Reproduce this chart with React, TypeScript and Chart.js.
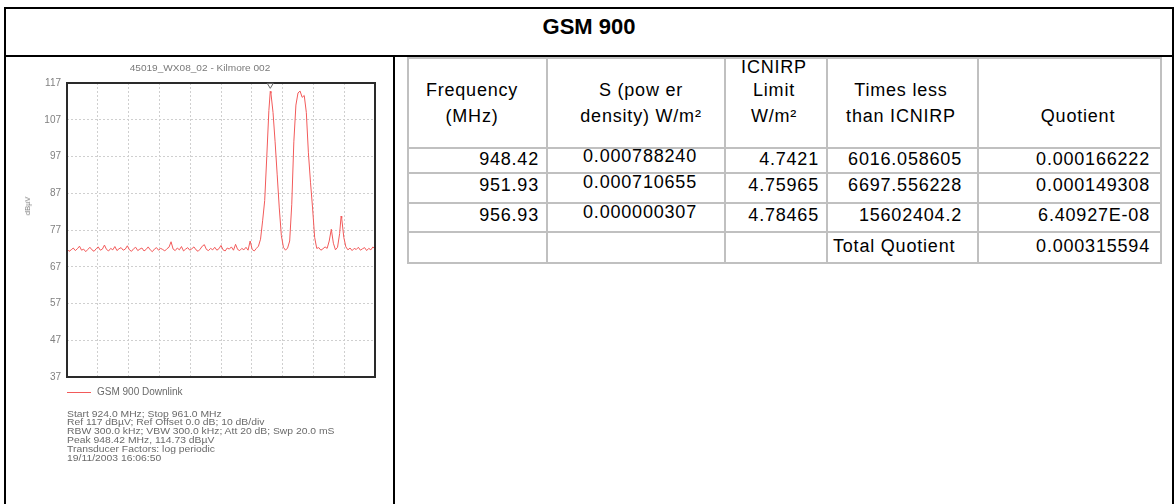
import React, { useEffect, useRef } from "react";
import { Chart, registerables } from "chart.js";

Chart.register(...registerables);

// ---------- Spectrum data ----------
const FREQ_MHZ = [
  924.0, 924.25, 924.5, 924.75, 925.0, 925.25, 925.5, 925.75, 926.0, 926.25, 926.5, 926.75,
  927.0, 927.25, 927.5, 927.75, 928.0, 928.25, 928.5, 928.75, 929.0, 929.25, 929.5, 929.75,
  930.0, 930.25, 930.5, 930.75, 931.0, 931.25, 931.5, 931.75, 932.0, 932.25, 932.5, 932.75,
  933.0, 933.25, 933.5, 933.75, 934.0, 934.25, 934.5, 934.75, 935.0, 935.25, 935.5, 935.75,
  936.0, 936.25, 936.5, 936.75, 937.0, 937.25, 937.5, 937.75, 938.0, 938.25, 938.5, 938.75,
  939.0, 939.25, 939.5, 939.75, 940.0, 940.25, 940.5, 940.75, 941.0, 941.25, 941.5, 941.75,
  942.0, 942.25, 942.5, 942.75, 943.0, 943.25, 943.5, 943.75, 944.0, 944.25, 944.5, 944.75,
  945.0, 945.25, 945.5, 945.75, 946.0, 946.25, 946.5, 946.75,
  947.0, 947.25, 947.5, 947.75, 948.0, 948.25, 948.42, 948.5, 948.75, 949.0, 949.25, 949.5, 949.75,
  950.0, 950.25, 950.5, 950.75, 951.0, 951.25, 951.5, 951.75, 952.0, 952.25, 952.5, 952.75,
  953.0, 953.25, 953.5, 953.75, 954.0, 954.25, 954.5, 954.75, 955.0, 955.25, 955.5, 955.75,
  956.0, 956.25, 956.5, 956.75, 956.93, 957.0, 957.25, 957.5, 957.75, 958.0, 958.25, 958.5,
  958.75, 959.0, 959.25, 959.5, 959.75, 960.0, 960.25, 960.5, 960.75, 961.0,
];

const LEVEL_DBUV = [
  71.8, 71.2, 71.6, 72.1, 71.4, 71.9, 72.6, 71.5, 71.8, 71.1, 71.7, 72.3,
  71.6, 71.2, 71.9, 72.4, 71.5, 71.8, 72.9, 71.7, 71.3, 72.0, 71.6, 72.5,
  71.4, 71.9, 72.2, 71.5, 71.8, 72.7, 71.6, 71.2, 71.9, 72.3, 71.4, 71.8,
  72.1, 71.3, 71.7, 72.4, 71.6, 71.1, 71.8, 72.2, 71.5, 72.0, 71.7, 71.3,
  71.9, 72.3, 73.8, 71.8, 71.4, 72.1, 71.6, 72.5, 71.3, 71.8, 72.2, 71.5,
  71.9, 72.4, 71.6, 71.2, 71.8, 72.6, 73.0, 71.7, 71.4, 72.0, 71.6, 72.3,
  71.5, 71.9, 72.8, 71.6, 71.3, 72.1, 71.8, 72.4, 71.5, 73.1, 71.7, 71.4,
  72.0, 71.6, 72.3, 71.5, 74.0, 71.7, 71.3, 72.0,
  72.6, 74.5, 79.5, 85.0, 97.0, 109.5, 114.73, 114.2, 109.0, 101.0, 92.0, 83.0, 75.5,
  72.3, 71.5, 72.1, 74.0, 84.0, 101.0, 111.0, 114.3, 114.8, 113.1, 113.6, 109.0,
  98.0, 90.0, 83.0, 75.0, 72.0, 72.2, 71.5, 71.9, 72.4, 72.0, 74.0, 77.2,
  73.4, 71.6, 72.3, 76.0, 80.8, 80.2, 75.0, 72.4, 71.6, 72.1, 71.4, 72.0,
  71.7, 72.3, 71.5, 71.9, 72.2, 71.4, 72.0, 71.6, 72.4, 71.8,
];

const Y_TICKS = [37, 47, 57, 67, 77, 87, 97, 107, 117];
const X_GRID = [924, 927.7, 931.4, 935.1, 938.8, 942.5, 946.2, 949.9, 953.6, 957.3, 961];
const X_START = 924;
const X_STOP = 961;
const PEAK_FREQ = 948.42;
const PEAK_LEVEL = 114.73;
const SERIES_LABEL = "GSM 900 Downlink";
const PLOT_TITLE = "45019_WX08_02 - Kilmore 002";
const Y_TITLE = "dBµV";
const INFO_LINES = [
  "Start 924.0 MHz; Stop 961.0 MHz",
  "Ref 117 dBµV; Ref Offset 0.0 dB; 10 dB/div",
  "RBW 300.0 kHz; VBW 300.0 kHz; Att 20 dB; Swp 20.0 mS",
  "Peak 948.42 MHz, 114.73 dBµV",
  "Transducer Factors: log periodic",
  "19/11/2003 16:06:50",
];

// ---------- Table data ----------
const PAGE_TITLE = "GSM 900";
const FREQS = ["948.42", "951.93", "956.93"];
const S_VALUES = ["0.000788240", "0.000710655", "0.000000307"];
const LIMITS = ["4.7421", "4.75965", "4.78465"];
const TIMES_LESS = ["6016.058605", "6697.556228", "15602404.2"];
const QUOTIENTS = ["0.000166222", "0.000149308", "6.40927E-08"];
const TOTAL_LABEL = "Total Quotient";
const TOTAL_QUOTIENT = "0.000315594";

const LINE_RED = "#f25a5a";

function SpectrumChart() {
  const ref = useRef<HTMLCanvasElement | null>(null);
  useEffect(() => {
    if (!ref.current) return;
    const framePlugin = {
      id: "frameAndMarker",
      afterDatasetsDraw(chart: any) {
        const { ctx, chartArea: a, scales } = chart;
        ctx.save();
        ctx.strokeStyle = "#2a2a2a";
        ctx.lineWidth = 2;
        ctx.strokeRect(a.left, a.top, a.right - a.left, a.bottom - a.top);
        const px = scales.x.getPixelForValue(PEAK_FREQ);
        const py = scales.y.getPixelForValue(PEAK_LEVEL);
        ctx.lineWidth = 1;
        ctx.strokeStyle = "#666";
        ctx.beginPath();
        ctx.moveTo(px - 3, py - 8);
        ctx.lineTo(px + 3, py - 8);
        ctx.lineTo(px, py - 3);
        ctx.closePath();
        ctx.stroke();
        ctx.restore();
      },
    };
    const chart = new Chart(ref.current, {
      type: "line",
      data: {
        datasets: [
          {
            label: SERIES_LABEL,
            data: FREQ_MHZ.map((f, i) => ({ x: f, y: LEVEL_DBUV[i] })),
            borderColor: LINE_RED,
            borderWidth: 1,
            pointRadius: 0,
            tension: 0,
            fill: false,
          },
        ],
      },
      options: {
        animation: false,
        responsive: false,
        maintainAspectRatio: false,
        layout: { padding: { left: 0, top: 26, right: 19, bottom: 127 } },
        plugins: {
          legend: { display: false },
          title: { display: false },
          tooltip: { enabled: false },
        },
        scales: {
          x: {
            type: "linear",
            min: X_START,
            max: X_STOP,
            afterBuildTicks: (s: any) => {
              s.ticks = X_GRID.map((v) => ({ value: v }));
            },
            ticks: { display: false },
            grid: { color: "#cfcfcf", lineWidth: 1, drawTicks: false },
            border: { display: false, dash: [2, 2] },
            afterFit: (s: any) => {
              s.height = 0;
            },
          },
          y: {
            type: "linear",
            min: 37,
            max: 117,
            afterBuildTicks: (s: any) => {
              s.ticks = Y_TICKS.map((v) => ({ value: v }));
            },
            ticks: {
              color: "#808080",
              font: { family: "Liberation Sans", size: 10 },
              padding: 6,
            },
            grid: { color: "#cfcfcf", lineWidth: 1, drawTicks: false },
            border: { display: false, dash: [2, 2] },
            afterFit: (s: any) => {
              s.width = 61;
            },
          },
        },
      },
      plugins: [framePlugin],
    } as any);
    return () => chart.destroy();
  }, []);
  return (
    <canvas
      ref={ref}
      width={388}
      height={447}
      style={{ position: "absolute", left: 6, top: 57, width: 388, height: 447 }}
    />
  );
}

type Align = "left" | "right" | "center";
function Txt(props: {
  x: number;
  y: number;
  text: string;
  align?: Align;
  size?: number;
  color?: string;
  bold?: boolean;
  lh?: number;
  ls?: number;
  sx?: number;
}) {
  const { x, y, text, align = "left", size = 18, color = "#000", bold, lh = 20, ls = 0, sx = 1 } = props;
  const tx = align === "right" ? "translateX(-100%)" : align === "center" ? "translateX(-50%)" : "";
  const origin = align === "right" ? "right center" : align === "center" ? "center center" : "left center";
  return (
    <div
      style={{
        position: "absolute",
        left: x,
        top: y - lh / 2,
        lineHeight: lh + "px",
        fontSize: size,
        fontWeight: bold ? "bold" : "normal",
        color,
        whiteSpace: "nowrap",
        transform: (tx + (sx !== 1 ? ` scaleX(${sx})` : "")) || "none",
        transformOrigin: origin,
        letterSpacing: ls,
      }}
    >
      {text}
    </div>
  );
}

function Rect(props: { x: number; y: number; w: number; h: number; c: string }) {
  return (
    <div
      style={{
        position: "absolute",
        left: props.x,
        top: props.y,
        width: props.w,
        height: props.h,
        background: props.c,
      }}
    />
  );
}

export default function App() {
  const colX = [407, 546, 724, 826, 977, 1160];
  const rowY = [57, 147, 172, 202, 231, 262];
  const rowText = [159, 185, 215, 246];
  const gray = "#c0c0c0";
  const TS = 18;
  const LS = 0.8;
  return (
    <div
      style={{
        position: "absolute",
        left: 0,
        top: 0,
        width: 1176,
        height: 504,
        background: "#fff",
        overflow: "hidden",
        fontFamily: "'Liberation Sans', Arial, sans-serif",
      }}
    >
      {/* outer black frame */}
      <Rect x={4} y={7} w={1170} h={2} c="#000" />
      <Rect x={4} y={55} w={1170} h={2} c="#000" />
      <Rect x={4} y={7} w={2} h={497} c="#000" />
      <Rect x={1172} y={7} w={2} h={497} c="#000" />
      <Rect x={393} y={55} w={2} h={449} c="#000" />
      <Txt x={589} y={27} text={PAGE_TITLE} align="center" size={22} bold lh={26} />

      {/* spectrum plot */}
      <SpectrumChart />
      <Txt x={200} y={68} text={PLOT_TITLE} align="center" size={9} color="#7a7a7a" lh={10} sx={1.12} />
      <div
        style={{
          position: "absolute",
          left: 28,
          top: 206,
          transform: "translate(-50%, -50%) rotate(-90deg)",
          fontSize: 7.5,
          color: "#7a7a7a",
          whiteSpace: "nowrap",
          lineHeight: "8px",
        }}
      >
        {Y_TITLE}
      </div>
      <Rect x={67} y={392} w={24} h={1} c={LINE_RED} />
      <Txt x={97} y={392} text={SERIES_LABEL} size={10} color="#6a6a6a" lh={12} />
      {INFO_LINES.map((t, i) => (
        <Txt key={i} x={67} y={414 + i * 8.8} text={t} size={9} color="#6a6a6a" lh={9} sx={1.15} />
      ))}

      {/* table grid */}
      {colX.map((x, i) => (
        <Rect key={"v" + i} x={x} y={rowY[0]} w={2} h={rowY[5] - rowY[0] + 2} c={gray} />
      ))}
      {rowY.map((y, i) => (
        <Rect key={"h" + i} x={colX[0]} y={y} w={colX[5] - colX[0] + 2} h={2} c={gray} />
      ))}

      {/* header */}
      <Txt x={472} y={90} text="Frequency" align="center" size={TS} ls={LS} />
      <Txt x={472} y={116} text="(MHz)" align="center" size={TS} ls={LS} />
      <Txt x={641} y={90} text="S (pow er" align="center" size={TS} ls={LS} />
      <Txt x={641} y={116} text="density) W/m²" align="center" size={TS} ls={LS} />
      <Txt x={774} y={67} text="ICNIRP" align="center" size={TS} ls={LS} />
      <Txt x={774} y={90} text="Limit" align="center" size={TS} ls={LS} />
      <Txt x={774} y={116} text="W/m²" align="center" size={TS} ls={LS} />
      <Txt x={901} y={90} text="Times less" align="center" size={TS} ls={LS} />
      <Txt x={901} y={116} text="than ICNIRP" align="center" size={TS} ls={LS} />
      <Txt x={1078} y={116} text="Quotient" align="center" size={TS} ls={LS} />

      {/* body */}
      {FREQS.map((t, i) => (
        <Txt key={"f" + i} x={539} y={rowText[i]} text={t} align="right" size={TS} ls={LS} />
      ))}
      {S_VALUES.map((t, i) => (
        <Txt key={"s" + i} x={640} y={rowText[i] - 3} text={t} align="center" size={TS} ls={LS} />
      ))}
      {LIMITS.map((t, i) => (
        <Txt key={"l" + i} x={819} y={rowText[i]} text={t} align="right" size={TS} ls={LS} />
      ))}
      {TIMES_LESS.map((t, i) => (
        <Txt key={"t" + i} x={962} y={rowText[i]} text={t} align="right" size={TS} ls={LS} />
      ))}
      {QUOTIENTS.map((t, i) => (
        <Txt key={"q" + i} x={1150} y={rowText[i]} text={t} align="right" size={TS} ls={LS} />
      ))}
      <Txt x={833} y={rowText[3]} text={TOTAL_LABEL} size={TS} ls={LS} />
      <Txt x={1150} y={rowText[3]} text={TOTAL_QUOTIENT} align="right" size={TS} ls={LS} />
    </div>
  );
}
